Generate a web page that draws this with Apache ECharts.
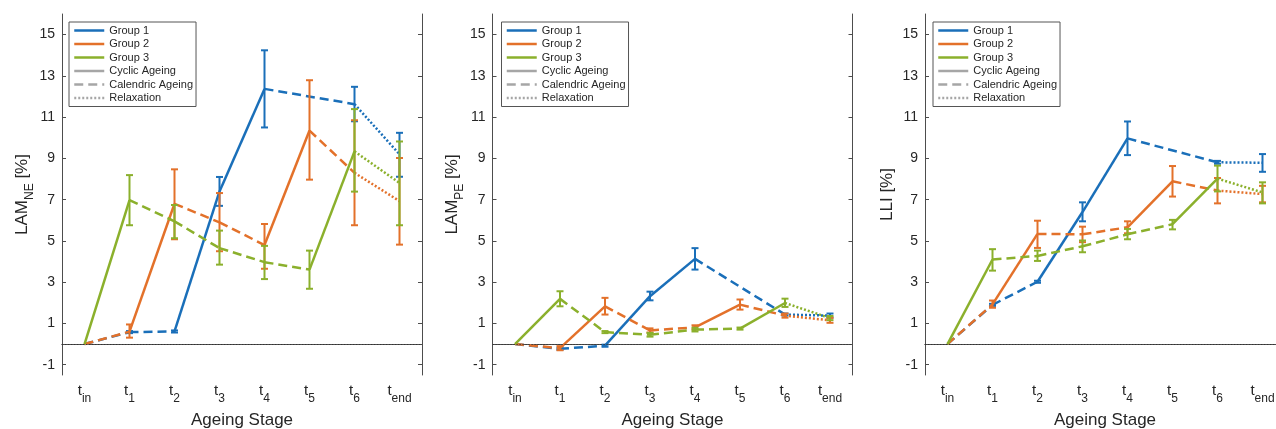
<!DOCTYPE html>
<html><head><meta charset="utf-8">
<script src="https://cdn.jsdelivr.net/npm/echarts@6/dist/echarts.min.js"></script>
<style>html,body{margin:0;padding:0;background:#fff}#chart{width:1276px;height:429px}</style>
</head><body><div id="chart"></div>
<script>
// ---------- data ----------
const stageSubscripts = ['in', '1', '2', '3', '4', '5', '6', 'end'];
const yTickValues = [-1, 1, 3, 5, 7, 9, 11, 13, 15];
const groupNames = ['Group 1', 'Group 2', 'Group 3'];
const phaseNames = ['Cyclic Ageing', 'Calendric Ageing', 'Relaxation'];
const xAxisTitle = 'Ageing Stage';
const yAxisTitles = [['LAM', 'NE'], ['LAM', 'PE'], ['LLI', '']];

// phase of the segment that starts at each stage (to the next measured stage)
const g1Phase = ['calendric', 'calendric', 'cyclic', 'cyclic', 'calendric', null, 'relaxation'];
const g2Phase = ['calendric', 'cyclic', 'calendric', 'calendric', 'cyclic', 'calendric', 'relaxation'];
const g3Phase = ['cyclic', 'calendric', 'calendric', 'calendric', 'calendric', 'cyclic', 'relaxation'];

// LAM_NE [%]
const neG1 = [0, 0.58, 0.61, 7.4, 12.37, null, 11.63, 9.2];
const neG1Lo = [null, 0.53, 0.56, 6.7, 10.5, null, 10.8, 8.11];
const neG1Hi = [null, 0.63, 0.66, 8.1, 14.24, null, 12.47, 10.24];
const neG2 = [0, 0.6, 6.8, 5.9, 4.8, 10.35, 8.3, 6.93];
const neG2Lo = [null, 0.31, 5.08, 4.5, 3.65, 7.97, 5.76, 4.82];
const neG2Hi = [null, 0.95, 8.47, 7.32, 5.82, 12.79, 10.85, 9.02];
const neG3 = [0, 6.98, 5.95, 4.65, 3.97, 3.61, 9.34, 7.81];
const neG3Lo = [null, 5.76, 5.13, 3.85, 3.15, 2.68, 7.39, 5.76];
const neG3Hi = [null, 8.19, 6.74, 5.5, 4.76, 4.53, 11.39, 9.82];

// LAM_PE [%]
const peG1 = [0, -0.23, -0.08, 2.32, 4.13, null, 1.43, 1.38];
const peG1Lo = [null, -0.28, -0.13, 2.12, 3.61, null, 1.38, 1.28];
const peG1Hi = [null, -0.18, -0.03, 2.54, 4.65, null, 1.48, 1.48];
const peG2 = [0, -0.2, 1.83, 0.66, 0.81, 1.91, 1.38, 1.15];
const peG2Lo = [null, -0.3, 1.43, 0.56, 0.71, 1.67, 1.28, 1.03];
const peG2Hi = [null, -0.1, 2.24, 0.76, 0.91, 2.16, 1.48, 1.27];
const peG3 = [0, 2.19, 0.58, 0.45, 0.7, 0.75, 1.99, 1.26];
const peG3Lo = [null, 1.83, 0.53, 0.36, 0.61, 0.7, 1.8, 1.16];
const peG3Hi = [null, 2.56, 0.63, 0.54, 0.79, 0.8, 2.2, 1.36];

// LLI [%]
const lliG1 = [0, 1.9, 3.02, 6.4, 9.97, null, 8.81, 8.79];
const lliG1Lo = [null, 1.85, 2.97, 5.95, 9.16, null, 8.74, 8.35];
const lliG1Hi = [null, 1.95, 3.07, 6.87, 10.79, null, 8.88, 9.21];
const lliG2 = [0, 1.92, 5.34, 5.32, 5.66, 7.89, 7.44, 7.27];
const lliG2Lo = [null, 1.76, 4.66, 4.94, 5.37, 7.15, 6.82, 6.87];
const lliG2Hi = [null, 2.11, 5.98, 5.69, 5.95, 8.63, 8.05, 7.67];
const lliG3 = [0, 4.1, 4.27, 4.74, 5.32, 5.81, 8.02, 7.35];
const lliG3Lo = [null, 3.56, 4.03, 4.45, 5.08, 5.56, 7.4, 6.82];
const lliG3Hi = [null, 4.6, 4.53, 5.02, 5.58, 6.02, 8.65, 7.84];

// ---------- styling ----------
const FONT = "'Liberation Sans', Arial, Helvetica, sans-serif";
const TXT = '#262626';
const AX = '#4d4d4d';
const groupColors = ['#1a6fb9', '#e3712a', '#8bb02c'];
const legendGray = '#a6a6a6';
const phaseType = { cyclic: 'solid', calendric: [9, 5], relaxation: [2, 2] };
const LW = 2.5;

const panels = [
  { title: yAxisTitles[0], groups: [[neG1, neG1Lo, neG1Hi, g1Phase], [neG2, neG2Lo, neG2Hi, g2Phase], [neG3, neG3Lo, neG3Hi, g3Phase]] },
  { title: yAxisTitles[1], groups: [[peG1, peG1Lo, peG1Hi, g1Phase], [peG2, peG2Lo, peG2Hi, g2Phase], [peG3, peG3Lo, peG3Hi, g3Phase]] },
  { title: yAxisTitles[2], groups: [[lliG1, lliG1Lo, lliG1Hi, g1Phase], [lliG2, lliG2Lo, lliG2Hi, g2Phase], [lliG3, lliG3Lo, lliG3Hi, g3Phase]] }
];
const gridLeft = [62, 492.5, 925];
const legendLeft = [69, 501.5, 933];

const grids = [], xAxes = [], yAxes = [], series = [], legends = [];

panels.forEach((p, pi) => {
  grids.push({ left: gridLeft[pi], top: 14, width: 360, height: 361, outerBoundsMode: 'none', containLabel: false });
  xAxes.push({
    gridIndex: pi, type: 'category', data: stageSubscripts, boundaryGap: true, position: 'bottom',
    axisLine: { lineStyle: { color: AX, width: 1 } },
    axisTick: { inside: true, alignWithLabel: true, length: 4, lineStyle: { color: AX } },
    axisLabel: {
      margin: 8, interval: 0,
      formatter: v => '{t|t}{s|' + v + '}',
      rich: {
        t: { fontSize: 15, lineHeight: 18, verticalAlign: 'top', color: TXT, fontFamily: FONT },
        s: { fontSize: 12, lineHeight: 14, padding: [10, 0, 0, 0], verticalAlign: 'top', color: TXT, fontFamily: FONT }
      }
    },
    splitLine: { show: false },
    name: xAxisTitle, nameLocation: 'middle', nameGap: 31,
    nameTextStyle: { fontSize: 17, color: TXT, fontFamily: FONT, lineHeight: 20 }
  });
  xAxes.push({
    gridIndex: pi, type: 'category', data: stageSubscripts, boundaryGap: true, position: 'top',
    axisLine: { lineStyle: { color: AX, width: 1 } },
    axisTick: { inside: true, alignWithLabel: true, length: 4, lineStyle: { color: AX } },
    axisLabel: { show: false }, splitLine: { show: false }
  });
  const t = p.title;
  const nm = t[1] ? '{m|' + t[0] + '}{s|' + t[1] + '}{m| [%]}' : '{m|' + t[0] + ' [%]}';
  yAxes.push({
    gridIndex: pi, type: 'value', min: -1.5, max: 16, position: 'left',
    axisLine: { show: true, lineStyle: { color: AX, width: 1 } },
    axisTick: { show: true, inside: true, length: 4, customValues: yTickValues, lineStyle: { color: AX } },
    axisLabel: { customValues: yTickValues, fontSize: 14, color: TXT, fontFamily: FONT, margin: 7 },
    splitLine: { show: false },
    name: nm, nameLocation: 'middle', nameRotate: 90, nameGap: 26,
    nameTextStyle: {
      rich: {
        m: { fontSize: 17, lineHeight: 20, verticalAlign: 'top', color: TXT, fontFamily: FONT },
        s: { fontSize: 12, lineHeight: 14, padding: [10, 0, 0, 0], verticalAlign: 'top', color: TXT, fontFamily: FONT }
      }
    }
  });
  yAxes.push({
    gridIndex: pi, type: 'value', min: -1.5, max: 16, position: 'right',
    axisLine: { show: true, lineStyle: { color: AX, width: 1 } },
    axisTick: { show: true, inside: true, length: 4, customValues: yTickValues, lineStyle: { color: AX } },
    axisLabel: { show: false }, splitLine: { show: false }
  });

  const xi = 2 * pi, yi = 2 * pi;
  // zero reference line
  series.push({
    type: 'line', xAxisIndex: xi, yAxisIndex: yi, data: [[0, 0]], symbol: 'none', silent: true,
    lineStyle: { opacity: 0 },
    markLine: { silent: true, symbol: 'none', label: { show: false }, animation: false,
      lineStyle: { color: '#333', type: [1.2, 1.8], width: 1.2 }, data: [{ yAxis: 0 }] }
  });

  p.groups.forEach((g, gi) => {
    const [vals, lo, hi, phase] = g;
    const color = groupColors[gi];
    // line segments between consecutive measured stages
    for (let i = 0; i < vals.length - 1; i++) {
      if (vals[i] === null || phase[i] === null) continue;
      let j = i + 1;
      while (j < vals.length && vals[j] === null) j++;
      if (j >= vals.length) continue;
      series.push({
        type: 'line', xAxisIndex: xi, yAxisIndex: yi, symbol: 'none', silent: true,
        data: [[i, vals[i]], [j, vals[j]]],
        lineStyle: { color: color, width: LW, type: phaseType[phase[i]] },
        z: 2 + gi
      });
    }
    // error bars
    const eb = [];
    for (let i = 0; i < vals.length; i++) {
      if (lo[i] !== null && hi[i] !== null) eb.push([i, lo[i], hi[i]]);
    }
    series.push({
      type: 'custom', xAxisIndex: xi, yAxisIndex: yi, silent: true, z: 2 + gi,
      encode: { x: 0, y: [1, 2] },
      data: eb,
      renderItem: (params, api) => {
        const x = api.value(0);
        const a = api.coord([x, api.value(1)]);
        const b = api.coord([x, api.value(2)]);
        const w = 3.5;
        const st = { stroke: color, lineWidth: 2 };
        return { type: 'group', children: [
          { type: 'line', shape: { x1: a[0], y1: a[1], x2: b[0], y2: b[1] }, style: st },
          { type: 'line', shape: { x1: a[0] - w, y1: a[1], x2: a[0] + w, y2: a[1] }, style: st },
          { type: 'line', shape: { x1: b[0] - w, y1: b[1], x2: b[0] + w, y2: b[1] }, style: st }
        ] };
      }
    });
  });

  legends.push({
    left: legendLeft[pi], top: 22, orient: 'vertical',
    data: groupNames.concat(phaseNames),
    itemWidth: 30, itemHeight: 12, itemGap: 2.5,
    backgroundColor: '#fff', borderColor: '#555', borderWidth: 1, borderRadius: 0,
    padding: [3, 3, 3, 4], selectedMode: false,
    itemStyle: { opacity: 0, borderWidth: 0 },
    lineStyle: { width: LW },
    textStyle: { fontSize: 11, color: TXT, fontFamily: FONT }
  });
});

// legend entry series (empty)
groupNames.forEach((n, gi) => series.push({ name: n, type: 'line', data: [], symbol: 'none', xAxisIndex: 0, yAxisIndex: 0,
  lineStyle: { color: groupColors[gi], width: LW, type: 'solid' }, itemStyle: { color: groupColors[gi] } }));
['cyclic', 'calendric', 'relaxation'].forEach((ph, k) => series.push({ name: phaseNames[k], type: 'line', data: [], symbol: 'none',
  xAxisIndex: 0, yAxisIndex: 0, lineStyle: { color: legendGray, width: LW, type: phaseType[ph] }, itemStyle: { color: legendGray } }));

const chart = echarts.init(document.getElementById('chart'), null, { renderer: 'canvas' });
chart.setOption({
  animation: false,
  textStyle: { fontFamily: FONT },
  grid: grids, xAxis: xAxes, yAxis: yAxes, legend: legends, series: series
});
</script></body></html>
